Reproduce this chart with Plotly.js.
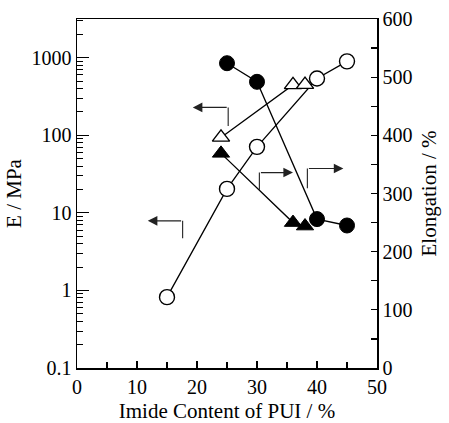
<!DOCTYPE html>
<html>
<head>
<meta charset="utf-8">
<script src="https://cdn.plot.ly/plotly-3.0.1.min.js"></script>
<style>
html,body{margin:0;padding:0;background:#fff;}
#chart{width:449px;height:423px;}
#chart .xtick text, #chart .ytick text, #chart .y2tick text {
  font-family: "Liberation Serif", serif !important;
  font-size: 20px !important;
}
#chart .xtitle, #chart .ytitle, #chart .y2title {
  font-family: "Liberation Serif", serif !important;
}
</style>
</head>
<body>
<div id="chart"></div>
<script>
// Modulus E (left, log axis) — open symbols
const circOpenX = [15, 25, 30, 40, 45];
const circOpenE = [0.82, 20.4, 71, 540, 900];
const triOpenX = [24, 36, 38];
const triOpenE = [94, 447, 450];
// Elongation (right axis) — filled symbols
const circFillX = [25, 30, 40, 45];
const circFillEl = [524, 492, 256, 245];
const triFillX = [24, 36, 38];
const triFillEl = [369, 250, 244];

// Indicator arrows (x / elongation-axis units): stem x, stem bottom, stem top (= arrow level), arrow tip x
const arrStemX = [17.6, 25.2, 30.4, 38.4];
const arrStemY0 = [223, 416, 306, 309];
const arrStemY1 = [253, 448, 336, 343];
const arrTipX = [11.8, 19.3, 36.0, 44.4];

const ink = '#000';
const font = 'Liberation Serif';

const lineStyle = {color: ink, width: 1.3};
const traces = [
  {x: circOpenX, y: circOpenE, yaxis: 'y', mode: 'lines+markers', line: lineStyle,
   marker: {symbol: 'circle', size: 15, color: '#fff', line: {color: ink, width: 1.4}}},
  {x: triOpenX, y: triOpenE, yaxis: 'y', mode: 'lines+markers', line: lineStyle,
   marker: {symbol: 'triangle-up', size: 15, color: '#fff', line: {color: ink, width: 1.4}}},
  {x: circFillX, y: circFillEl, yaxis: 'y2', mode: 'lines+markers', line: lineStyle,
   marker: {symbol: 'circle', size: 15, color: ink, line: {color: ink, width: 1}}},
  {x: triFillX, y: triFillEl, yaxis: 'y2', mode: 'lines+markers', line: lineStyle,
   marker: {symbol: 'triangle-up', size: 15, color: ink, line: {color: ink, width: 1}}}
];

const shapes = arrStemX.map((sx, i) => ({
  type: 'line', xref: 'x', yref: 'y2', x0: sx, x1: sx, y0: arrStemY0[i], y1: arrStemY1[i],
  line: {color: '#333', width: 1.2}
}));
const annotations = arrStemX.map((sx, i) => ({
  xref: 'x', yref: 'y2', axref: 'x', ayref: 'y2',
  x: arrTipX[i], y: arrStemY1[i], ax: sx, ay: arrStemY1[i],
  text: '', showarrow: true, arrowhead: 2, arrowsize: 1.6, arrowwidth: 1.2, arrowcolor: '#222'
}));

const layout = {
  width: 449, height: 423,
  margin: {l: 77, r: 72, t: 19, b: 55},
  paper_bgcolor: '#fff', plot_bgcolor: '#fff',
  showlegend: false,
  font: {family: font, size: 20, color: ink},
  xaxis: {
    range: [0, 50], dtick: 10, ticks: 'inside', ticklen: 7, tickwidth: 1.2, tickcolor: ink,
    minor: {dtick: 5, ticks: 'inside', ticklen: 6, tickwidth: 1.2, tickcolor: ink},
    showline: true, linewidth: 1.5, linecolor: ink, mirror: true, showgrid: false, zeroline: false,
    title: {text: 'Imide Content of PUI / %', font: {family: font, size: 21}, standoff: 8},
    tickfont: {family: font, size: 20}
  },
  yaxis: {
    type: 'log', range: [-1, 3.5], dtick: 1, exponentformat: 'none',
    ticks: 'inside', ticklen: 12, tickwidth: 1.2, tickcolor: ink,
    minor: {dtick: 'D1', ticks: 'inside', ticklen: 6, tickwidth: 1, tickcolor: ink},
    showline: true, linewidth: 1.5, linecolor: ink, showgrid: false, zeroline: false,
    title: {text: 'E / MPa', font: {family: font, size: 21}, standoff: 4},
    tickfont: {family: font, size: 20}
  },
  yaxis2: {
    overlaying: 'y', side: 'right', range: [0, 600], dtick: 100,
    ticks: 'inside', ticklen: 6, tickwidth: 1.2, tickcolor: ink,
    minor: {dtick: 50, ticks: 'inside', ticklen: 6, tickwidth: 1.2, tickcolor: ink},
    showline: true, linewidth: 1.5, linecolor: ink, showgrid: false, zeroline: false,
    title: {text: 'Elongation / %', font: {family: font, size: 21}, standoff: 10},
    tickfont: {family: font, size: 20}
  },
  shapes: shapes,
  annotations: annotations
};

Plotly.newPlot('chart', traces, layout, {displayModeBar: false, staticPlot: true});
</script>
</body>
</html>
